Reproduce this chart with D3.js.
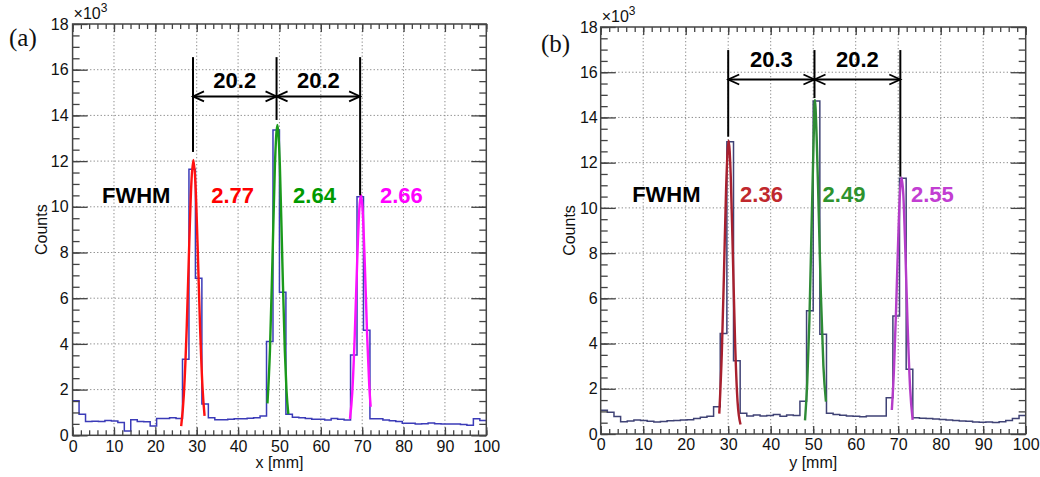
<!DOCTYPE html>
<html>
<head>
<meta charset="utf-8">
<script src="https://cdn.jsdelivr.net/npm/d3@7"></script>
<style>
body { margin: 0; background: #fff; }
svg { display: block; }
text { font-family: "Liberation Sans", Arial, Helvetica, sans-serif; }
</style>
</head>
<body>
<svg width="1040" height="477"></svg>
<script>
// 64 bins over 0..100 mm, counts in units of 10^3
const nBins = 64
const xTickVals = [0, 10, 20, 30, 40, 50, 60, 70, 80, 90, 100]
const yTickVals = [0, 2, 4, 6, 8, 10, 12, 14, 16, 18]

const countsX = [1.51, 0.92, 0.60, 0.61, 0.60, 0.65, 0.63, 0.56, 0.19, 0.68, 0.60, 0.59, 0.41, 0.74, 0.74, 0.77,
  0.74, 3.33, 11.64, 6.87, 1.37, 0.77, 0.68, 0.68, 0.70, 0.72, 0.72, 0.75, 0.77, 0.85, 4.10, 13.36,
  6.26, 0.92, 0.79, 0.77, 0.74, 0.70, 0.70, 0.67, 0.74, 0.70, 0.67, 3.51, 10.44, 4.60, 0.72, 0.72,
  0.67, 0.64, 0.60, 0.53, 0.53, 0.50, 0.51, 0.54, 0.51, 0.50, 0.50, 0.49, 0.47, 0.44, 0.72, 0.65]

const countsY = [1.05, 0.96, 0.77, 0.54, 0.58, 0.62, 0.60, 0.56, 0.53, 0.55, 0.59, 0.60, 0.62, 0.63, 0.68, 0.74,
  0.79, 1.20, 4.45, 12.93, 3.24, 0.92, 0.80, 0.84, 0.80, 0.82, 0.86, 0.78, 0.84, 0.82, 1.45, 5.45,
  14.73, 4.41, 0.92, 0.86, 0.83, 0.80, 0.78, 0.76, 0.80, 0.80, 0.80, 1.60, 5.22, 11.31, 2.86, 0.72,
  0.70, 0.68, 0.66, 0.64, 0.62, 0.60, 0.58, 0.56, 0.53, 0.52, 0.53, 0.51, 0.54, 0.60, 0.68, 0.82]

// fitted peaks, points
const fitXa = { x: [26.25, 26.9, 27.6, 28.2, 28.7, 29.2, 29.7, 30.2, 30.8, 31.4, 31.9],
                y: [0.40, 1.8, 4.8, 8.4, 11.0, 12.05, 11.0, 8.4, 4.8, 2.1, 0.85] }
const fitXb = { x: [47.1, 47.7, 48.3, 48.9, 49.5, 50.1, 50.7, 51.3, 51.7, 52.15],
                y: [1.40, 3.7, 7.6, 11.8, 13.58, 11.8, 7.6, 3.7, 1.97, 0.93] }
const fitXc = { x: [67.05, 67.6, 68.2, 68.8, 69.3, 69.7, 70.1, 70.6, 71.2, 71.7, 72.05],
                y: [0.72, 1.87, 4.36, 7.66, 9.88, 10.52, 9.88, 7.66, 4.36, 2.2, 1.25] }
const fitYa = { x: [27.9, 28.5, 29.0, 29.5, 30.1, 30.6, 31.1, 31.6, 32.2, 32.9],
                y: [0.90, 3.6, 7.08, 10.8, 12.97, 11.4, 7.87, 4.2, 1.43, 0.42] }
const fitYb = { x: [48.07, 48.6, 49.1, 49.6, 50.1, 50.4, 50.8, 51.3, 51.8, 52.4, 53.0],
                y: [0.60, 2.3, 5.0, 9.0, 13.0, 14.77, 13.2, 9.8, 6.2, 3.0, 1.43] }
const fitYc = { x: [68.5, 69.0, 69.5, 70.0, 70.4, 70.8, 71.2, 71.7, 72.2, 72.8, 73.4],
                y: [1.06, 2.83, 5.5, 8.6, 10.6, 11.34, 10.6, 8.0, 4.9, 2.04, 0.62] }

// peak markers and spacings
const peakPosX = [29.1, 49.3, 69.5]
const peakTopX = [16.55, 16.55, 16.55]
const peakLowX = [12.4, 13.8, 10.5]
const spacingX = ["20.2", "20.2"]
const peakPosY = [30.0, 50.3, 70.5]
const peakTopY = [16.98, 16.98, 16.98]
const peakLowY = [13.15, 14.86, 11.38]
const spacingY = ["20.3", "20.2"]

const fwhmX = ["2.77", "2.64", "2.66"]
const fwhmY = ["2.36", "2.49", "2.55"]

const panels = [
  { tag: "(a)", title: "x [mm]", counts: countsX, fits: [fitXa, fitXb, fitXc],
    fitColors: ["#ff1010", "#1a9a1a", "#ff10ff"], textColors: ["#ff0000", "#009a00", "#ff00ff"],
    histColor: "#3b3bb8", left: 72.6, right: 486.3, top: 24, bottom: 435.3,
    pos: peakPosX, tops: peakTopX, lows: peakLowX, arrowAt: 14.83, gaps: spacingX, gapText: 15.2,
    fwhm: fwhmX, fwhmAt: [7.1, 33.5, 53.3, 74.3], fwhmY: 10.17, tagX: 9, tagY: 46, titleY: 468, labPad: 4 },
  { tag: "(b)", title: "y [mm]", counts: countsY, fits: [fitYa, fitYb, fitYc],
    fitColors: ["#a8202e", "#2e8b36", "#b43cc8"], textColors: ["#c0282d", "#2e922e", "#c23ed2"],
    histColor: "#3f4275", left: 600.7, right: 1025.7, top: 27, bottom: 434,
    pos: peakPosY, tops: peakTopY, lows: peakLowY, arrowAt: 15.68, gaps: spacingY, gapText: 16.23,
    fwhm: fwhmY, fwhmAt: [7.4, 32.8, 52.2, 73.0], fwhmY: 10.26, tagX: 541, tagY: 52, titleY: 468, labPad: 3 }
]

const svg = d3.select("svg")

panels.forEach(p => {
  const x = d3.scaleLinear().domain([0, 100]).range([p.left, p.right])
  const y = d3.scaleLinear().domain([0, 18]).range([p.bottom, p.top])
  const g = svg.append("g")
  const frameColor = "#444"

  // grid
  g.selectAll("line.gx").data(xTickVals.slice(1, -1)).enter().append("line")
    .attr("x1", d => x(d)).attr("x2", d => x(d)).attr("y1", p.top).attr("y2", p.bottom)
    .attr("stroke", "#8a8a8a").attr("stroke-width", 1).attr("stroke-dasharray", "1.3,2.2")
  g.selectAll("line.gy").data(yTickVals.slice(1, -1)).enter().append("line")
    .attr("y1", d => y(d)).attr("y2", d => y(d)).attr("x1", p.left).attr("x2", p.right)
    .attr("stroke", "#8a8a8a").attr("stroke-width", 1).attr("stroke-dasharray", "1.3,2.2")

  // histogram
  const edges = d3.range(nBins + 1).map(i => i * 100 / nBins)
  const pts = p.counts.map((c, i) => [edges[i], c]).concat([[100, p.counts[nBins - 1]]])
  g.append("path")
    .attr("d", d3.line().x(d => x(d[0])).y(d => y(d[1])).curve(d3.curveStepAfter)(pts))
    .attr("fill", "none").attr("stroke", p.histColor).attr("stroke-width", 1.5)

  // fit curves
  p.fits.forEach((f, k) => {
    g.append("path")
      .attr("d", d3.line().x(d => x(d[0])).y(d => y(d[1])).curve(d3.curveMonotoneX)(f.x.map((v, i) => [v, f.y[i]])))
      .attr("fill", "none").attr("stroke", p.fitColors[k]).attr("stroke-width", 2.4)
  })

  // axes, ticks pointing inwards
  const minorX = d3.range(0, 101, 2), minorY = d3.range(0, 18.01, 0.5)
  const ax = (gen, tr) => g.append("g").attr("transform", tr).call(gen)
    .call(s => s.select(".domain").remove())
    .call(s => s.selectAll("line").attr("stroke", frameColor).attr("stroke-width", 1.3))
  ax(d3.axisBottom(x).tickValues(minorX).tickSize(-5).tickFormat(""), `translate(0,${p.bottom})`)
  ax(d3.axisTop(x).tickValues(minorX).tickSize(-5).tickFormat(""), `translate(0,${p.top})`)
  ax(d3.axisLeft(y).tickValues(minorY).tickSize(-7).tickFormat(""), `translate(${p.left},0)`)
  ax(d3.axisRight(y).tickValues(minorY).tickSize(-7).tickFormat(""), `translate(${p.right},0)`)
  ax(d3.axisTop(x).tickValues(xTickVals).tickSize(-8).tickFormat(""), `translate(0,${p.top})`)
  ax(d3.axisRight(y).tickValues(yTickVals).tickSize(-15).tickFormat(""), `translate(${p.right},0)`)
  ax(d3.axisBottom(x).tickValues(xTickVals).tickSize(-8).tickPadding(5).tickFormat(d3.format("d")), `translate(0,${p.bottom})`)
    .selectAll("text").attr("font-size", 16).attr("fill", "#111")
  ax(d3.axisLeft(y).tickValues(yTickVals).tickSize(-15).tickPadding(p.labPad).tickFormat(d3.format("d")), `translate(${p.left},0)`)
    .selectAll("text").attr("font-size", 16).attr("fill", "#111")

  g.append("rect").attr("x", p.left).attr("y", p.top)
    .attr("width", p.right - p.left).attr("height", p.bottom - p.top)
    .attr("fill", "none").attr("stroke", frameColor).attr("stroke-width", 1.5)

  // exponent and titles
  const ex = g.append("text").attr("x", p.left + 1).attr("y", p.top - 5).attr("font-size", 16).attr("fill", "#111")
  ex.append("tspan").text("×10")
  ex.append("tspan").attr("dy", -7).attr("font-size", 12).text("3")
  g.append("text").attr("transform", `translate(${p.left - 26},${(p.top + p.bottom) / 2}) rotate(-90)`)
    .attr("text-anchor", "middle").attr("font-size", 16).attr("fill", "#111").text("Counts")
  g.append("text").attr("x", x(50)).attr("y", p.titleY).attr("text-anchor", "middle")
    .attr("font-size", 16).attr("fill", "#111").text(p.title)
  g.append("text").attr("x", p.tagX).attr("y", p.tagY).attr("font-size", 25)
    .style("font-family", "'Liberation Serif', 'Times New Roman', serif").attr("fill", "#111").text(p.tag)

  // peak markers
  p.pos.forEach((v, i) => {
    g.append("line").attr("x1", x(v)).attr("x2", x(v)).attr("y1", y(p.tops[i])).attr("y2", y(p.lows[i]))
      .attr("stroke", "#000").attr("stroke-width", 2)
  })
  p.gaps.forEach((t, i) => {
    const a = x(p.pos[i]), b = x(p.pos[i + 1]), ya = y(p.arrowAt)
    g.append("line").attr("x1", a).attr("x2", b).attr("y1", ya).attr("y2", ya)
      .attr("stroke", "#000").attr("stroke-width", 2)
    g.append("path").attr("d", `M${a + 11},${ya - 5}L${a},${ya}L${a + 11},${ya + 5}M${b - 11},${ya - 5}L${b},${ya}L${b - 11},${ya + 5}`)
      .attr("fill", "none").attr("stroke", "#000").attr("stroke-width", 1.8)
    g.append("text").attr("x", (a + b) / 2).attr("y", y(p.gapText)).attr("text-anchor", "middle")
      .attr("font-size", 22).attr("font-weight", "bold").attr("fill", "#000").text(t)
  })

  // FWHM labels
  g.append("text").attr("x", x(p.fwhmAt[0])).attr("y", y(p.fwhmY)).attr("font-size", 22)
    .attr("font-weight", "bold").attr("fill", "#000").text("FWHM")
  p.fwhm.forEach((t, i) => {
    g.append("text").attr("x", x(p.fwhmAt[i + 1])).attr("y", y(p.fwhmY)).attr("font-size", 22)
      .attr("font-weight", "bold").attr("fill", p.textColors[i]).text(t)
  })
})
</script>
</body>
</html>
